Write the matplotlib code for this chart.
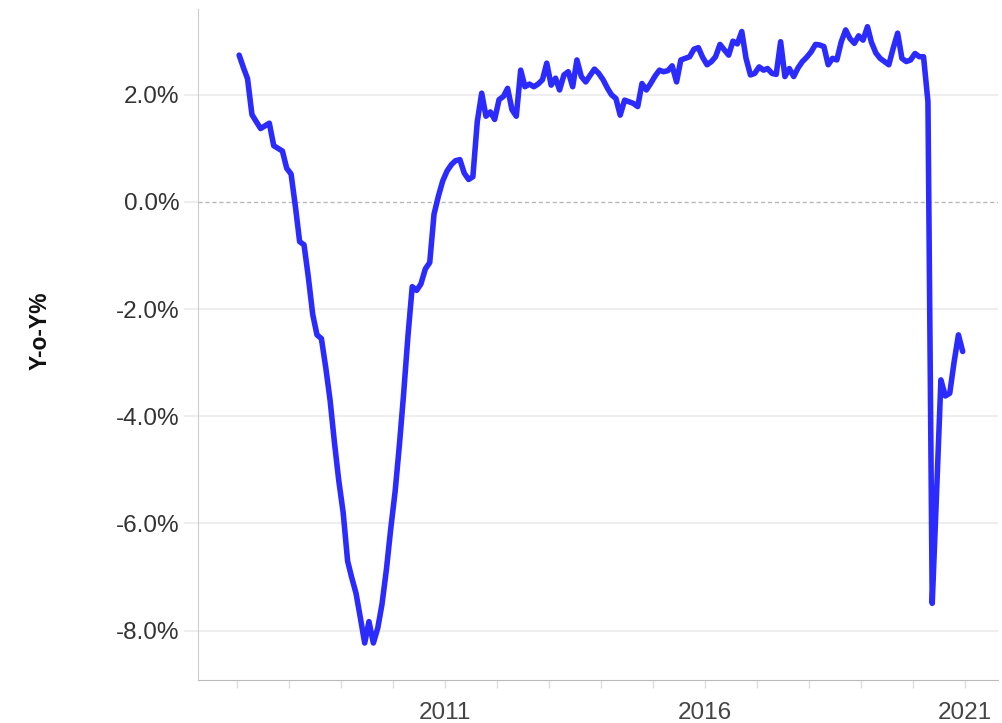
import matplotlib
matplotlib.use("Agg")
import matplotlib.pyplot as plt
import matplotlib.dates as mdates
import pandas as pd

# monthly year-over-year change, Jan 2007 - Dec 2020
yoy_2007 = [2.74, 2.50, 2.30, 1.63, 1.50, 1.37, 1.42, 1.47, 1.05, 1.00, 0.95, 0.63]
yoy_2008 = [0.52, -0.10, -0.74, -0.80, -1.40, -2.10, -2.48, -2.55, -3.10, -3.70, -4.50, -5.20]
yoy_2009 = [-5.80, -6.70, -7.00, -7.30, -7.75, -8.23, -7.83, -8.23, -7.95, -7.50, -6.85, -6.10]
yoy_2010 = [-5.40, -4.50, -3.60, -2.50, -1.58, -1.65, -1.53, -1.25, -1.13, -0.23, 0.11, 0.39]
yoy_2011 = [0.58, 0.70, 0.77, 0.79, 0.54, 0.42, 0.47, 1.50, 2.03, 1.60, 1.68, 1.54]
yoy_2012 = [1.91, 1.97, 2.12, 1.72, 1.60, 2.46, 2.15, 2.20, 2.15, 2.20, 2.28, 2.59]
yoy_2013 = [2.18, 2.31, 2.09, 2.37, 2.43, 2.15, 2.65, 2.34, 2.24, 2.36, 2.48, 2.40]
yoy_2014 = [2.28, 2.12, 2.00, 1.93, 1.62, 1.90, 1.87, 1.84, 1.78, 2.21, 2.09, 2.21]
yoy_2015 = [2.35, 2.46, 2.43, 2.45, 2.54, 2.24, 2.65, 2.68, 2.71, 2.85, 2.88, 2.70]
yoy_2016 = [2.56, 2.62, 2.71, 2.94, 2.84, 2.74, 3.00, 2.95, 3.18, 2.68, 2.37, 2.40]
yoy_2017 = [2.52, 2.46, 2.49, 2.40, 2.38, 2.99, 2.34, 2.49, 2.34, 2.50, 2.62, 2.70]
yoy_2018 = [2.80, 2.94, 2.93, 2.90, 2.56, 2.68, 2.65, 2.99, 3.21, 3.05, 2.96, 3.10]
yoy_2019 = [3.02, 3.27, 2.98, 2.78, 2.68, 2.62, 2.56, 2.87, 3.15, 2.68, 2.62, 2.65]
yoy_2020 = [2.77, 2.71, 2.71, 1.87, -7.49, -5.40, -3.32, -3.62, -3.57, -3.00, -2.48, -2.79]

values = (yoy_2007 + yoy_2008 + yoy_2009 + yoy_2010 + yoy_2011 + yoy_2012 + yoy_2013
          + yoy_2014 + yoy_2015 + yoy_2016 + yoy_2017 + yoy_2018 + yoy_2019 + yoy_2020)
dates = pd.date_range("2007-01-01", periods=len(values), freq="MS") + pd.Timedelta(days=14)

y_ticks = [-8, -6, -4, -2, 0, 2]
label_years = [2011, 2016, 2021]
all_years = list(range(2007, 2022))

fig = plt.figure(figsize=(10.02, 7.23), dpi=100)
ax = fig.add_axes([0.1976, 0.0595, 0.7984, 0.928])

for t in y_ticks:
    if t == 0:
        ax.axhline(t, color="#b8b8b8", lw=1, ls=(0, (3, 2)), zorder=1)
    else:
        ax.axhline(t, color="#eeeeee", lw=1.5, zorder=1)

ax.plot(dates, values, color="#2b2bff", lw=4, solid_joinstyle="round",
        solid_capstyle="round", zorder=3)

ax.set_ylim(-8.92, 3.6)
ax.set_xlim(pd.Timestamp("2006-04-01"), pd.Timestamp("2021-08-20"))

ax.set_yticks(y_ticks)
ax.set_yticklabels([f"{t:.1f}%" for t in y_ticks])
ax.set_xticks([mdates.date2num(pd.Timestamp(f"{y}-01-01")) for y in label_years])
ax.set_xticklabels([str(y) for y in label_years])
ax.set_xticks([mdates.date2num(pd.Timestamp(f"{y}-01-01")) for y in all_years
               if y not in label_years], minor=True)

ax.tick_params(axis="y", length=10, color="#eeeeee", width=1.5, pad=3.5,
               labelsize=17.5, labelcolor="#333333")
ax.tick_params(axis="x", which="both", length=6, color="#dddddd", width=1,
               labelsize=17.5, labelcolor="#444444", pad=10)
for lab in ax.get_yticklabels() + ax.get_xticklabels():
    lab.set_family(["Liberation Sans", "DejaVu Sans"])

for s in ["top", "right"]:
    ax.spines[s].set_visible(False)
ax.spines["left"].set_color("#cccccc")
ax.spines["bottom"].set_color("#bbbbbb")

ax.set_ylabel("Y-o-Y%", fontsize=16.5, fontweight="bold", color="#111111",
              family=["Liberation Sans", "DejaVu Sans"])
ax.yaxis.set_label_coords(-0.183, 0.52)

fig.savefig("out.png", dpi=100)
